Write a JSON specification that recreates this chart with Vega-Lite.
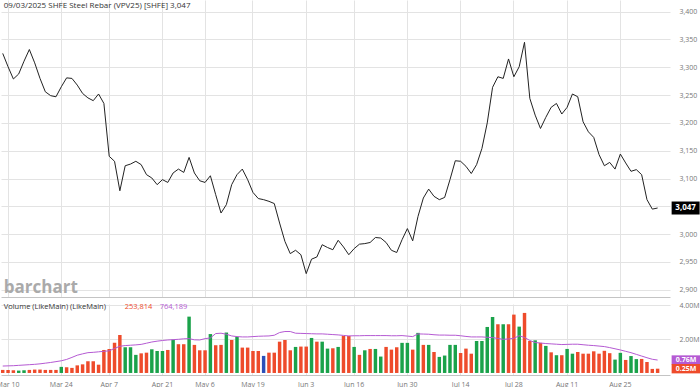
{
  "$schema": "https://vega.github.io/schema/vega-lite/v6.json",
  "padding": {"left": -4, "top": 0, "right": 0, "bottom": 0},
  "background": "white",
  "spacing": 4,
  "config": {
    "view": {"stroke": null},
    "font": "Open Sans",
    "axis": {"labelFont": "Open Sans", "labelFontSize": 7, "labelColor": "#777777", "gridColor": "#e3e3e3", "gridWidth": 1, "ticks": false, "domainColor": "#c4c4c4"}
  },
  "datasets": {
    "s": [
      {"d":"2025-03-07","c":3325,"v":180000,"m":410000,"k":"r"},
      {"d":"2025-03-10","c":3301,"v":180000,"m":420000,"k":"r"},
      {"d":"2025-03-11","c":3279,"v":160000,"m":430000,"k":"r"},
      {"d":"2025-03-12","c":3288,"v":140000,"m":450000,"k":"g"},
      {"d":"2025-03-13","c":3311,"v":160000,"m":470000,"k":"g"},
      {"d":"2025-03-14","c":3332,"v":180000,"m":490000,"k":"r"},
      {"d":"2025-03-17","c":3308,"v":200000,"m":510000,"k":"r"},
      {"d":"2025-03-18","c":3280,"v":200000,"m":540000,"k":"r"},
      {"d":"2025-03-19","c":3256,"v":180000,"m":580000,"k":"r"},
      {"d":"2025-03-20","c":3249,"v":180000,"m":620000,"k":"r"},
      {"d":"2025-03-21","c":3247,"v":180000,"m":670000,"k":"r"},
      {"d":"2025-03-24","c":3265,"v":360000,"m":720000,"k":"g"},
      {"d":"2025-03-25","c":3281,"v":340000,"m":800000,"k":"r"},
      {"d":"2025-03-26","c":3280,"v":300000,"m":920000,"k":"r"},
      {"d":"2025-03-27","c":3268,"v":450000,"m":1050000,"k":"r"},
      {"d":"2025-03-28","c":3253,"v":510000,"m":1130000,"k":"r"},
      {"d":"2025-03-31","c":3245,"v":690000,"m":1200000,"k":"r"},
      {"d":"2025-04-01","c":3240,"v":690000,"m":1220000,"k":"r"},
      {"d":"2025-04-02","c":3252,"v":490000,"m":1250000,"k":"r"},
      {"d":"2025-04-03","c":3235,"v":1360000,"m":1280000,"k":"r"},
      {"d":"2025-04-07","c":3140,"v":1420000,"m":1310000,"k":"r"},
      {"d":"2025-04-08","c":3131,"v":1790000,"m":1450000,"k":"r"},
      {"d":"2025-04-09","c":3078,"v":2250000,"m":1580000,"k":"r"},
      {"d":"2025-04-10","c":3123,"v":1520000,"m":1620000,"k":"g"},
      {"d":"2025-04-11","c":3126,"v":1520000,"m":1640000,"k":"g"},
      {"d":"2025-04-14","c":3131,"v":1070000,"m":1660000,"k":"g"},
      {"d":"2025-04-15","c":3125,"v":1160000,"m":1690000,"k":"r"},
      {"d":"2025-04-16","c":3107,"v":1200000,"m":1760000,"k":"r"},
      {"d":"2025-04-17","c":3101,"v":1400000,"m":1830000,"k":"g"},
      {"d":"2025-04-18","c":3089,"v":1300000,"m":1880000,"k":"g"},
      {"d":"2025-04-21","c":3098,"v":1300000,"m":1920000,"k":"g"},
      {"d":"2025-04-22","c":3093,"v":1360000,"m":1950000,"k":"r"},
      {"d":"2025-04-23","c":3110,"v":1970000,"m":1970000,"k":"g"},
      {"d":"2025-04-24","c":3117,"v":1700000,"m":1990000,"k":"r"},
      {"d":"2025-04-25","c":3111,"v":1700000,"m":2020000,"k":"r"},
      {"d":"2025-04-28","c":3138,"v":3330000,"m":2030000,"k":"g"},
      {"d":"2025-04-29","c":3110,"v":1660000,"m":1960000,"k":"r"},
      {"d":"2025-04-30","c":3096,"v":1340000,"m":1950000,"k":"r"},
      {"d":"2025-05-06","c":3093,"v":1340000,"m":2030000,"k":"r"},
      {"d":"2025-05-07","c":3105,"v":2300000,"m":2070000,"k":"g"},
      {"d":"2025-05-08","c":3071,"v":1640000,"m":2330000,"k":"r"},
      {"d":"2025-05-09","c":3038,"v":1660000,"m":2350000,"k":"r"},
      {"d":"2025-05-12","c":3053,"v":2390000,"m":2290000,"k":"g"},
      {"d":"2025-05-13","c":3089,"v":1950000,"m":2190000,"k":"r"},
      {"d":"2025-05-14","c":3107,"v":2130000,"m":2150000,"k":"g"},
      {"d":"2025-05-15","c":3117,"v":1500000,"m":2130000,"k":"r"},
      {"d":"2025-05-16","c":3098,"v":1500000,"m":2130000,"k":"r"},
      {"d":"2025-05-19","c":3075,"v":1300000,"m":2150000,"k":"r"},
      {"d":"2025-05-20","c":3064,"v":1300000,"m":2170000,"k":"r"},
      {"d":"2025-05-21","c":3062,"v":1010000,"m":2180000,"k":"b"},
      {"d":"2025-05-22","c":3059,"v":1200000,"m":2190000,"k":"r"},
      {"d":"2025-05-23","c":3055,"v":1200000,"m":2230000,"k":"r"},
      {"d":"2025-05-26","c":3020,"v":1850000,"m":2390000,"k":"r"},
      {"d":"2025-05-27","c":2987,"v":1950000,"m":2450000,"k":"r"},
      {"d":"2025-05-28","c":2965,"v":1340000,"m":2450000,"k":"r"},
      {"d":"2025-05-29","c":2971,"v":1540000,"m":2350000,"k":"g"},
      {"d":"2025-05-30","c":2963,"v":1560000,"m":2340000,"k":"r"},
      {"d":"2025-06-03","c":2929,"v":1560000,"m":2330000,"k":"r"},
      {"d":"2025-06-04","c":2955,"v":2070000,"m":2320000,"k":"g"},
      {"d":"2025-06-05","c":2959,"v":1850000,"m":2310000,"k":"r"},
      {"d":"2025-06-06","c":2981,"v":1850000,"m":2310000,"k":"g"},
      {"d":"2025-06-09","c":2976,"v":1440000,"m":2290000,"k":"g"},
      {"d":"2025-06-10","c":2972,"v":1460000,"m":2270000,"k":"r"},
      {"d":"2025-06-11","c":2989,"v":1540000,"m":2250000,"k":"g"},
      {"d":"2025-06-12","c":2977,"v":2190000,"m":2220000,"k":"r"},
      {"d":"2025-06-13","c":2963,"v":2190000,"m":2190000,"k":"r"},
      {"d":"2025-06-16","c":2974,"v":1540000,"m":2200000,"k":"g"},
      {"d":"2025-06-17","c":2982,"v":1070000,"m":2200000,"k":"r"},
      {"d":"2025-06-18","c":2983,"v":1340000,"m":2210000,"k":"g"},
      {"d":"2025-06-19","c":2985,"v":1420000,"m":2210000,"k":"r"},
      {"d":"2025-06-20","c":2994,"v":1420000,"m":2210000,"k":"g"},
      {"d":"2025-06-23","c":2993,"v":970000,"m":2210000,"k":"g"},
      {"d":"2025-06-24","c":2985,"v":1540000,"m":2210000,"k":"r"},
      {"d":"2025-06-25","c":2971,"v":1380000,"m":2200000,"k":"r"},
      {"d":"2025-06-26","c":2967,"v":1520000,"m":2200000,"k":"r"},
      {"d":"2025-06-27","c":2990,"v":1780000,"m":2210000,"k":"g"},
      {"d":"2025-06-30","c":3010,"v":1780000,"m":2180000,"k":"g"},
      {"d":"2025-07-01","c":2988,"v":1380000,"m":2150000,"k":"r"},
      {"d":"2025-07-02","c":3032,"v":2370000,"m":2310000,"k":"g"},
      {"d":"2025-07-03","c":3065,"v":1660000,"m":2300000,"k":"r"},
      {"d":"2025-07-04","c":3081,"v":1660000,"m":2290000,"k":"g"},
      {"d":"2025-07-07","c":3068,"v":1240000,"m":2260000,"k":"r"},
      {"d":"2025-07-08","c":3062,"v":950000,"m":2240000,"k":"g"},
      {"d":"2025-07-09","c":3066,"v":1030000,"m":2240000,"k":"g"},
      {"d":"2025-07-10","c":3098,"v":1660000,"m":2230000,"k":"g"},
      {"d":"2025-07-11","c":3132,"v":1660000,"m":2230000,"k":"g"},
      {"d":"2025-07-14","c":3131,"v":1180000,"m":2200000,"k":"r"},
      {"d":"2025-07-15","c":3122,"v":1440000,"m":2160000,"k":"r"},
      {"d":"2025-07-16","c":3109,"v":1140000,"m":2130000,"k":"r"},
      {"d":"2025-07-17","c":3125,"v":1890000,"m":2130000,"k":"g"},
      {"d":"2025-07-18","c":3154,"v":1890000,"m":2130000,"k":"g"},
      {"d":"2025-07-21","c":3200,"v":2720000,"m":2110000,"k":"g"},
      {"d":"2025-07-22","c":3264,"v":3310000,"m":2090000,"k":"g"},
      {"d":"2025-07-23","c":3283,"v":2880000,"m":2040000,"k":"r"},
      {"d":"2025-07-24","c":3280,"v":2880000,"m":1990000,"k":"g"},
      {"d":"2025-07-25","c":3315,"v":2880000,"m":2010000,"k":"r"},
      {"d":"2025-07-28","c":3283,"v":3450000,"m":2050000,"k":"r"},
      {"d":"2025-07-29","c":3301,"v":2740000,"m":2200000,"k":"g"},
      {"d":"2025-07-30","c":3345,"v":3550000,"m":2100000,"k":"r"},
      {"d":"2025-07-31","c":3244,"v":1890000,"m":1920000,"k":"r"},
      {"d":"2025-08-01","c":3214,"v":1930000,"m":1800000,"k":"g"},
      {"d":"2025-08-04","c":3190,"v":1780000,"m":1770000,"k":"r"},
      {"d":"2025-08-05","c":3210,"v":1600000,"m":1740000,"k":"g"},
      {"d":"2025-08-06","c":3228,"v":1220000,"m":1720000,"k":"r"},
      {"d":"2025-08-07","c":3235,"v":1050000,"m":1700000,"k":"g"},
      {"d":"2025-08-08","c":3216,"v":1050000,"m":1680000,"k":"r"},
      {"d":"2025-08-11","c":3228,"v":1420000,"m":1690000,"k":"g"},
      {"d":"2025-08-12","c":3252,"v":1140000,"m":1700000,"k":"g"},
      {"d":"2025-08-13","c":3247,"v":1240000,"m":1700000,"k":"r"},
      {"d":"2025-08-14","c":3202,"v":1140000,"m":1670000,"k":"r"},
      {"d":"2025-08-15","c":3184,"v":1140000,"m":1640000,"k":"r"},
      {"d":"2025-08-18","c":3174,"v":1280000,"m":1620000,"k":"r"},
      {"d":"2025-08-19","c":3143,"v":1140000,"m":1590000,"k":"r"},
      {"d":"2025-08-20","c":3123,"v":1310000,"m":1560000,"k":"r"},
      {"d":"2025-08-21","c":3129,"v":1170000,"m":1500000,"k":"r"},
      {"d":"2025-08-22","c":3117,"v":790000,"m":1430000,"k":"g"},
      {"d":"2025-08-25","c":3144,"v":1190000,"m":1360000,"k":"g"},
      {"d":"2025-08-26","c":3128,"v":770000,"m":1280000,"k":"r"},
      {"d":"2025-08-27","c":3113,"v":1000000,"m":1200000,"k":"g"},
      {"d":"2025-08-28","c":3116,"v":820000,"m":1100000,"k":"g"},
      {"d":"2025-08-29","c":3107,"v":830000,"m":1000000,"k":"r"},
      {"d":"2025-09-01","c":3062,"v":650000,"m":900000,"k":"r"},
      {"d":"2025-09-02","c":3045,"v":240000,"m":810000,"k":"r"},
      {"d":"2025-09-03","c":3047,"v":253814,"m":764189,"k":"r"}
    ]
  },
  "vconcat": [
    {
      "width": 669,
      "height": 297,
      "data": {"name": "s"},
      "encoding": {
        "x": {
          "field": "d", "type": "ordinal", "title": null,
          "scale": {"type": "band", "paddingInner": 0.35, "paddingOuter": 1.175, "align": 0},
          "axis": {"orient": "bottom", "labels": false, "domain": true, "grid": true, "bandPosition": 0.5,
                   "values": ["2025-03-10","2025-03-24","2025-04-07","2025-04-21","2025-05-06","2025-05-19","2025-06-03","2025-06-16","2025-06-30","2025-07-14","2025-07-28","2025-08-11","2025-08-25"]}
        },
        "y": {"field": "c", "type": "quantitative", "title": null,
              "scale": {"domain": [2887, 3421], "nice": false, "zero": false},
              "axis": {"orient": "right", "values": [2900,2950,3000,3050,3100,3150,3200,3250,3300,3350,3400], "labelExpr": "format(datum.value, ',')", "labelOverlap": false, "labelPadding": 9, "domain": false, "grid": true}}
      },
      "layer": [
        {
          "mark": {"type": "line", "color": "#222222", "strokeWidth": 1}
        },
        {
          "transform": [{"filter": "datum.d === '2025-09-03'"}],
          "mark": {"type": "point", "shape": "M14,-6.5H42V6.5H14Z", "size": 4, "filled": true, "color": "#000000", "opacity": 1, "strokeWidth": 0}
        },
        {
          "transform": [{"filter": "datum.d === '2025-09-03'"}],
          "mark": {"type": "text", "dx": 28, "align": "center", "baseline": "middle", "color": "#ffffff", "fontWeight": "bold", "fontSize": 8, "font": "Open Sans"},
          "encoding": {
            "text": {"field": "c", "type": "quantitative", "format": ","}
          }
        },
        {
          "transform": [{"filter": "datum.d === '2025-09-03'"}],
          "mark": {"type": "text", "align": "left", "baseline": "top", "dx": 1, "dy": 2, "fontSize": 8, "color": "#333333", "font": "Open Sans", "text": "09/03/2025 SHFE Steel Rebar (VPV25) [SHFE] 3,047"},
          "encoding": {
            "x": {"datum": "2025-03-07", "type": "ordinal"},
            "y": {"datum": 3421, "type": "quantitative", "title": null,
                  "axis": {"orient": "right", "values": [2900,2950,3000,3050,3100,3150,3200,3250,3300,3350,3400], "labelExpr": "format(datum.value, ',')", "labelOverlap": false, "labelPadding": 9, "domain": false, "grid": true}}
          }
        },
        {
          "transform": [{"filter": "datum.d === '2025-09-03'"}],
          "mark": {"type": "text", "align": "left", "baseline": "alphabetic", "dx": 1, "dy": 3, "fontSize": 17, "fontWeight": "bold", "color": "#aaaaaa", "font": "Open Sans", "text": "barchart"},
          "encoding": {
            "x": {"datum": "2025-03-07", "type": "ordinal"},
            "y": {"datum": 2900, "type": "quantitative", "title": null,
                  "axis": {"orient": "right", "values": [2900,2950,3000,3050,3100,3150,3200,3250,3300,3350,3400], "labelExpr": "format(datum.value, ',')", "labelOverlap": false, "labelPadding": 9, "domain": false, "grid": true}}
          }
        }
      ]
    },
    {
      "width": 669,
      "height": 71,
      "data": {"name": "s"},
      "encoding": {
        "x": {
          "field": "d", "type": "ordinal", "title": null,
          "scale": {"type": "band", "paddingInner": 0.35, "paddingOuter": 1.175, "align": 0},
          "axis": {"orient": "bottom", "labelAngle": 0, "labelPadding": 5, "labelOverlap": false, "domain": true, "grid": true, "bandPosition": 0.5,
                   "labelExpr": "utcFormat(toDate(datum.value), '%b %-d')",
                   "values": ["2025-03-10","2025-03-24","2025-04-07","2025-04-21","2025-05-06","2025-05-19","2025-06-03","2025-06-16","2025-06-30","2025-07-14","2025-07-28","2025-08-11","2025-08-25"]}
        }
      },
      "layer": [
        {
          "mark": {"type": "bar"},
          "encoding": {
            "y": {"field": "v", "type": "quantitative", "title": null,
                  "scale": {"domain": [-120000, 4077000], "nice": false},
                  "axis": {"orient": "right", "values": [2000000, 4000000], "labelExpr": "format(datum.value / 1000000, '.2f') + 'M'", "labelOverlap": false, "labelPadding": 9, "domain": false, "grid": true}},
            "color": {"field": "k", "type": "nominal", "legend": null,
                      "scale": {"domain": ["r", "g", "b"], "range": ["#ee4b2b", "#1aa24a", "#2b4fb8"]}}
          }
        },
        {
          "mark": {"type": "line", "color": "#b55ad3", "strokeWidth": 1},
          "encoding": {"y": {"field": "m", "type": "quantitative", "title": null}}
        },
        {
          "transform": [{"filter": "datum.d === '2025-09-03'"}],
          "mark": {"type": "point", "shape": "M14,-4.7H43V4.7H14Z", "size": 4, "filled": true, "color": "#b55ad3", "opacity": 1, "strokeWidth": 0},
          "encoding": {"y": {"field": "m", "type": "quantitative", "title": null}}
        },
        {
          "transform": [{"filter": "datum.d === '2025-09-03'"}],
          "mark": {"type": "point", "shape": "M14,-4.7H43V4.7H14Z", "size": 4, "filled": true, "color": "#ee4b2b", "opacity": 1, "strokeWidth": 0},
          "encoding": {"y": {"field": "v", "type": "quantitative", "title": null}}
        },
        {
          "transform": [{"filter": "datum.d === '2025-09-03'"}],
          "mark": {"type": "text", "dx": 28.5, "align": "center", "baseline": "middle", "color": "#ffffff", "fontWeight": "bold", "fontSize": 7, "font": "Open Sans", "text": {"expr": "format(datum.m / 1000000, '.2f') + 'M'"}},
          "encoding": {"y": {"field": "m", "type": "quantitative", "title": null}}
        },
        {
          "transform": [{"filter": "datum.d === '2025-09-03'"}],
          "mark": {"type": "text", "dx": 28.5, "align": "center", "baseline": "middle", "color": "#ffffff", "fontWeight": "bold", "fontSize": 7, "font": "Open Sans", "text": {"expr": "format(datum.v / 1000000, '.2f') + 'M'"}},
          "encoding": {"y": {"field": "v", "type": "quantitative", "title": null}}
        },
        {
          "transform": [{"filter": "datum.d === '2025-09-03'"}],
          "mark": {"type": "text", "align": "left", "baseline": "top", "dx": 1, "dy": -1, "fontSize": 7.5, "color": "#333333", "font": "Open Sans", "text": "Volume (LikeMain)  (LikeMain)"},
          "encoding": {
            "x": {"datum": "2025-03-07", "type": "ordinal"},
            "y": {"datum": 4077000, "type": "quantitative"}
          }
        },
        {
          "transform": [{"filter": "datum.d === '2025-09-03'"}],
          "mark": {"type": "text", "align": "left", "baseline": "top", "dx": 122, "dy": -1, "fontSize": 7.5, "color": "#ee4b2b", "font": "Open Sans"},
          "encoding": {
            "x": {"datum": "2025-03-07", "type": "ordinal"},
            "y": {"datum": 4077000, "type": "quantitative"},
            "text": {"field": "v", "type": "quantitative", "format": ","}
          }
        },
        {
          "transform": [{"filter": "datum.d === '2025-09-03'"}],
          "mark": {"type": "text", "align": "left", "baseline": "top", "dx": 157, "dy": -1, "fontSize": 7.5, "color": "#b55ad3", "font": "Open Sans"},
          "encoding": {
            "x": {"datum": "2025-03-07", "type": "ordinal"},
            "y": {"datum": 4077000, "type": "quantitative"},
            "text": {"field": "m", "type": "quantitative", "format": ","}
          }
        }
      ]
    }
  ]
}
